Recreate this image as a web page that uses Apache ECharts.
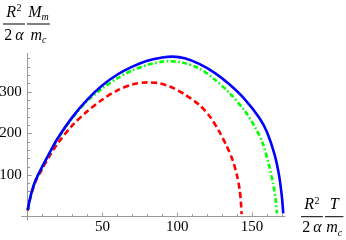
<!DOCTYPE html>
<html><head><meta charset="utf-8">
<script src="https://cdn.jsdelivr.net/npm/echarts@6/dist/echarts.min.js"></script>
<style>html,body{margin:0;padding:0;background:#fff}#c{width:346px;height:240px}</style>
</head><body><div id="c"></div>
<script>
// ---- data ----
const blueT  = [0, 2, 5, 10, 15, 20, 30, 40, 50, 60, 70, 80, 90, 97, 105, 115, 125, 135, 145, 155, 160, 165, 168, 170, 170.8];
const blueM  = [16, 50, 85, 122, 156, 188, 240, 282, 316, 342, 361, 375, 383, 385, 381, 367, 346, 318, 283, 237, 203, 150, 100, 45, 8];
const greenT = [0, 2, 5, 10, 15, 20, 30, 40, 50, 60, 70, 80, 90, 95, 103, 115, 125, 135, 145, 152, 157, 161, 164, 165.8, 166.6];
const greenM = [16, 50, 85, 122, 155, 187, 238, 279, 309, 333, 352, 365, 373, 374, 371, 356, 330, 297, 255, 215, 178, 128, 80, 40, 8];
const redT   = [0, 2, 5, 10, 15, 20, 30, 40, 50, 60, 70, 80, 88, 95, 105, 115, 122, 128, 133, 137, 140, 141.8, 142.6, 143];
const redM   = [14, 48, 82, 117, 148, 176, 220, 254, 282, 304, 318, 323, 321, 313, 294, 268, 240, 205, 170, 136, 98, 62, 30, 6];

const xTickLabels = [50, 100, 150];
const yTickLabels = [100, 200, 300];
const xMinorTicks = [10, 20, 30, 40, 60, 70, 80, 90, 110, 120, 130, 140, 160, 170];
const yMinorTicks = [20, 40, 60, 80, 120, 140, 160, 180, 220, 240, 260, 280, 320, 340, 360, 380];

const pairs = (xs, ys) => xs.map((x, i) => [x, ys[i]]);

const FONT = '"Liberation Serif", "Times New Roman", serif';
const AX = '#999999';

// ---- fraction-style axis titles ----
const cvs = document.createElement('canvas').getContext('2d');
function fontStr(p) { return (p.i ? 'italic ' : '') + p.s + 'px ' + FONT; }
function width(parts) {
  let w = 0;
  parts.forEach(p => { cvs.font = fontStr(p); w += (p.dx || 0) + cvs.measureText(p.t).width; });
  return w;
}
function row(parts, cx, baseline) {
  const els = [];
  let x = cx - width(parts) / 2;
  parts.forEach(p => {
    x += (p.dx || 0);
    cvs.font = fontStr(p);
    els.push({
      type: 'text', x: x, y: baseline + (p.dy || 0) - 0.35 * p.s,
      style: { text: p.t, fontFamily: FONT, fontSize: p.s, fontStyle: p.i ? 'italic' : 'normal',
               fill: '#000', textAlign: 'left', textVerticalAlign: 'middle' }
    });
    x += cvs.measureText(p.t).width;
  });
  return els;
}
function frac(x0, yBar, num, den) {
  const w = Math.max(width(num), width(den)) + 2.5;
  const cx = x0 + w / 2;
  return {
    w: w,
    els: [
      { type: 'line', shape: { x1: x0, y1: yBar, x2: x0 + w, y2: yBar }, style: { stroke: '#000', lineWidth: 1 } },
      ...row(num, cx, yBar - 6),
      ...row(den, cx, yBar + 17)
    ]
  };
}
const R2 = [{ t: 'R', s: 16, i: true }, { t: '2', s: 10, dy: -6, dx: 0.5 }];
const TwoAlpha = [{ t: '2', s: 16 }, { t: 'α', s: 16, i: true, dx: 3 }];
const Mm = [{ t: 'M', s: 16, i: true }, { t: 'm', s: 10, i: true, dy: 3 }];
const mc = [{ t: 'm', s: 16, i: true }, { t: 'c', s: 10, i: true, dy: 3 }];
const Tn = [{ t: 'T', s: 16, i: true }];

function title(x0, yBar, numB) {
  const a = frac(x0, yBar, R2, TwoAlpha);
  const b = frac(x0 + a.w + 2, yBar, numB, mc);
  return a.els.concat(b.els);
}
const graphics = title(3, 24, Mm).concat(title(301, 216.7, Tn));

// ---- chart ----
const chart = echarts.init(document.getElementById('c'), null, { renderer: 'canvas' });
const baseX = { type: 'value', min: -4, max: 172, splitLine: { show: false } };
const baseY = { type: 'value', min: -8, max: 393, splitLine: { show: false } };
chart.setOption({
  animation: false,
  backgroundColor: '#fff',
  grid: { left: 21.7, right: 61, top: 53.3, bottom: 20, containLabel: false, outerBoundsMode: 'none' },
  xAxis: [
    Object.assign({}, baseX, {
      position: 'bottom',
      axisLine: { show: true, onZero: true, lineStyle: { color: AX, width: 1 } },
      axisTick: { show: true, inside: true, length: 4, customValues: xTickLabels, lineStyle: { color: AX } },
      axisLabel: { show: true, customValues: xTickLabels, margin: 0, fontFamily: FONT, fontSize: 15, color: '#000' }
    }),
    Object.assign({}, baseX, {
      position: 'bottom',
      axisLine: { show: false, onZero: true, onZeroAxisIndex: 0 },
      axisTick: { show: true, inside: true, length: 2.5, customValues: xMinorTicks, lineStyle: { color: AX } },
      axisLabel: { show: false }
    })
  ],
  yAxis: [
    Object.assign({}, baseY, {
      position: 'left',
      axisLine: { show: true, onZero: true, lineStyle: { color: AX, width: 1 } },
      axisTick: { show: true, inside: true, length: 4, customValues: yTickLabels, lineStyle: { color: AX } },
      axisLabel: { show: true, customValues: yTickLabels, margin: 0, fontFamily: FONT, fontSize: 15, color: '#000' }
    }),
    Object.assign({}, baseY, {
      position: 'left',
      axisLine: { show: false, onZero: true, onZeroAxisIndex: 0 },
      axisTick: { show: true, inside: true, length: 2.5, customValues: yMinorTicks, lineStyle: { color: AX } },
      axisLabel: { show: false }
    })
  ],
  series: [
    { type: 'line', name: 'red', data: pairs(redT, redM), smooth: 0.3, showSymbol: false, clip: false,
      lineStyle: { color: '#ff0000', width: 2.6, type: [6, 3.5] } },
    { type: 'line', name: 'green', data: pairs(greenT, greenM), smooth: 0.3, showSymbol: false, clip: false,
      lineStyle: { color: '#00ff00', width: 2.6, type: [5, 2.5, 1.6, 2.5] } },
    { type: 'line', name: 'blue', data: pairs(blueT, blueM), smooth: 0.3, showSymbol: false, clip: false,
      lineStyle: { color: '#0000ff', width: 2.6 } }
  ],
  graphic: graphics
});
</script></body></html>
